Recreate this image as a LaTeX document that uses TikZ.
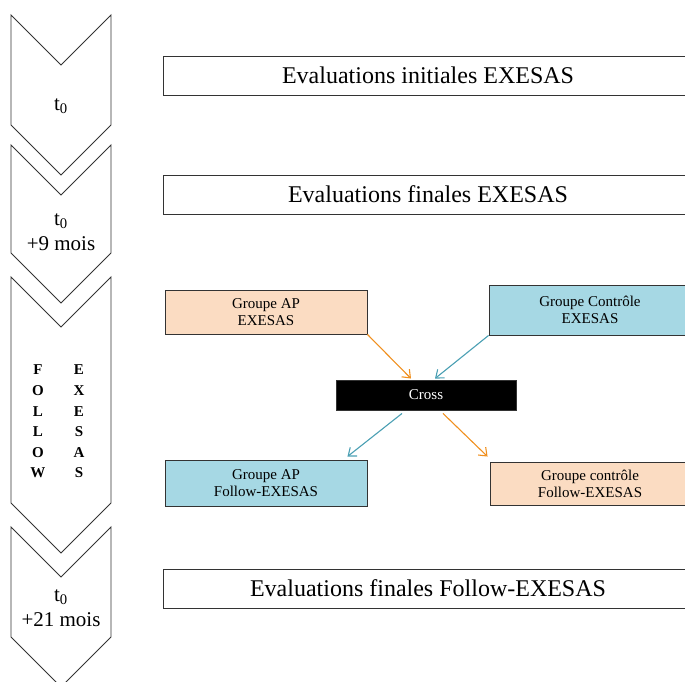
\documentclass[tikz,border=0pt]{standalone}
\usepackage{fontspec}
\setmainfont{Liberation Serif}
\usetikzlibrary{arrows.meta,calc}
\definecolor{peach}{HTML}{FBDCC2}
\definecolor{lblue}{HTML}{A6D8E4}
\definecolor{arrorange}{HTML}{F0901F}
\definecolor{arrteal}{HTML}{4A9FB3}
\definecolor{edge}{HTML}{333333}
\begin{document}
\begin{tikzpicture}[x=1pt,y=-1pt,
  chev/.style={draw=edge,line width=0.9pt,line join=miter},
  bigbox/.style={draw=edge,line width=0.9pt,minimum width=530pt,minimum height=39pt,inner sep=0pt,font=\fontsize{24}{28}\selectfont},
  grpbox/.style={draw=edge,line width=0.9pt,inner sep=0pt,align=center,font=\fontsize{15}{17}\selectfont},
  chevtxt/.style={align=center,inner sep=0pt,font=\fontsize{21}{25}\selectfont},
  vtxt/.style={align=center,inner sep=0pt,font=\fontsize{15}{20.6}\selectfont\bfseries},
  arr/.style={line width=1.1pt,-{Straight Barb[length=7pt,width=11pt]}}]
\clip (0,0) rectangle (685,682);
% chevrons
\draw[chev] (11,15) -- (61,65) -- (111,15) -- (111,125) -- (61,175) -- (11,125) -- cycle;
\draw[chev] (11,145) -- (61,195) -- (111,145) -- (111,253) -- (61,303) -- (11,253) -- cycle;
\draw[chev] (11,277) -- (61,327) -- (111,277) -- (111,503) -- (61,553) -- (11,503) -- cycle;
\draw[chev] (11,527) -- (61,577) -- (111,527) -- (111,637) -- (61,687) -- (11,637) -- cycle;
% chevron texts
\node[chevtxt] (c1t) at (61,106) {t\textsubscript{0}};
\node[chevtxt] (c2t) at (61,232) {t\textsubscript{0}\\+9 mois};
\node[vtxt] (c3a) at (38,421.5) {F\\O\\L\\L\\O\\W};
\node[vtxt] (c3b) at (79,421.5) {E\\X\\E\\S\\A\\S};
\node[chevtxt] (c4t) at (61,608) {t\textsubscript{0}\\+21 mois};
% big boxes
\node[bigbox] (b1) at (428,75.5) {Evaluations initiales EXESAS};
\node[bigbox] (b2) at (428,194.5) {Evaluations finales EXESAS};
\node[bigbox] (b4) at (428,588.5) {Evaluations finales Follow-EXESAS};
% group boxes
\node[grpbox,fill=peach,minimum width=202pt,minimum height=44pt] (ape) at (266,312) {Groupe AP\\EXESAS};
\node[grpbox,fill=lblue,minimum width=202pt,minimum height=50pt] (cte) at (590,310) {Groupe Contrôle\\EXESAS};
\node[grpbox,fill=black,text=white,minimum width=180pt,minimum height=30pt] (cross) at (426,395) {Cross};
\node[grpbox,fill=lblue,minimum width=202pt,minimum height=46pt] (apf) at (266,483) {Groupe AP\\Follow-EXESAS};
\node[grpbox,fill=peach,minimum width=200pt,minimum height=43pt] (ctf) at (590,483.5) {Groupe contrôle\\Follow-EXESAS};
% arrow coordinates
\coordinate (in1) at ($(cross.north)+(-15,-1)$);
\coordinate (in2) at ($(cross.north)+(9,-1)$);
\coordinate (out1) at ($(cross.south)+(-24,3)$);
\coordinate (out2) at ($(cross.south)+(17,3)$);
\coordinate (end1) at ($(apf.north east)+(-20,-3)$);
\coordinate (end2) at ($(ctf.north west)+(-2,-5)$);
\draw[arr,arrorange] (ape.south east) -- (in1);
\draw[arr,arrteal] (cte.south west) -- (in2);
\draw[arr,arrteal] (out1) -- (end1);
\draw[arr,arrorange] (out2) -- (end2);
\end{tikzpicture}
\end{document}
